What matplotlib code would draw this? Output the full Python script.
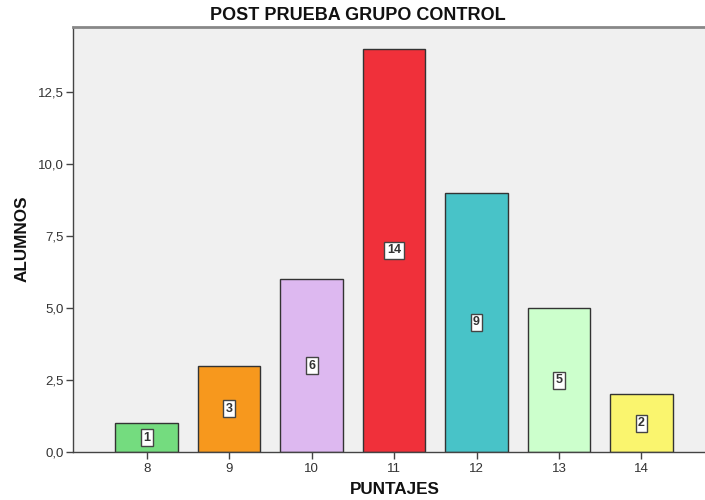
import matplotlib
matplotlib.use("Agg")
import matplotlib.pyplot as plt

puntajes = [8, 9, 10, 11, 12, 13, 14]
alumnos = [1, 3, 6, 14, 9, 5, 2]
colores = ["#74DC7F", "#F7981D", "#DDB8F0", "#F0303A", "#48C3C8", "#CCFFCC", "#FAF56E"]
yticks = [0, 2.5, 5.0, 7.5, 10.0, 12.5]
ytick_labels = ["0,0", "2,5", "5,0", "7,5", "10,0", "12,5"]

plt.rcParams['font.family'] = ['Liberation Sans', 'DejaVu Sans']

fig = plt.figure(figsize=(7.05, 5.0), dpi=100)
fig.patch.set_facecolor("white")
ax = fig.add_axes([0.1035, 0.096, 0.8965, 0.85])
ax.set_facecolor("#F0F0F0")

ax.bar(puntajes, alumnos, width=0.76, color=colores, edgecolor="#333333", linewidth=1.0, zorder=2)
for x, v in zip(puntajes, alumnos):
    ax.text(x, v / 2, str(v), ha="center", va="center", fontsize=9, fontweight="bold", color="#333333",
            bbox=dict(boxstyle="square,pad=0.2", facecolor="white", edgecolor="#444444", linewidth=1.0), zorder=3)

ax.set_xlim(7.107, 14.77)
ax.set_ylim(0, 14.76)
ax.set_xticks(puntajes)
ax.set_xticklabels([str(p) for p in puntajes])
ax.set_yticks(yticks)
ax.set_yticklabels(ytick_labels)
ax.tick_params(axis="both", direction="out", length=5, width=1, color="#444444", labelsize=9.5, labelcolor="#333333")
ax.tick_params(axis="y", pad=1.5)
ax.tick_params(axis="x", pad=3)

for s in ["left", "bottom"]:
    ax.spines[s].set_color("#444444")
    ax.spines[s].set_linewidth(1.0)
ax.spines["right"].set_visible(False)
ax.spines["top"].set_color("#888888")
ax.spines["top"].set_linewidth(2.0)

fig.text(358 / 705, 1 - 16 / 500, "POST PRUEBA GRUPO CONTROL", ha="center", va="center",
         fontsize=13, fontweight="bold", color="#111111")
fig.text(395 / 705, 1 - 490 / 500, "PUNTAJES", ha="center", va="center",
         fontsize=12.3, fontweight="bold", color="#111111")
fig.text(22 / 705, 1 - 239 / 500, "ALUMNOS", ha="center", va="center", rotation=90,
         fontsize=12.3, fontweight="bold", color="#111111")

fig.savefig("out.png", dpi=100)
